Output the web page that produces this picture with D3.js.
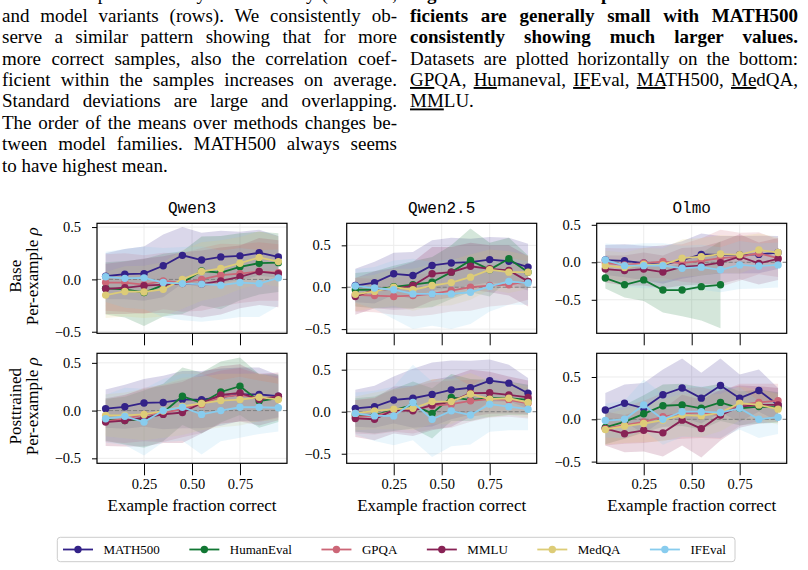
<!DOCTYPE html>
<html>
<head>
<meta charset="utf-8">
<script src="https://cdn.jsdelivr.net/npm/d3@7"></script>
<style>
  body { margin: 0; background: white; }
  svg { display: block; }
  text { font-family: "Liberation Serif", "Times New Roman", serif; fill: black; }
</style>
</head>
<body>
<div id="fig"></div>
<script>
// ---- data ----
var fractions = [0.05, 0.15, 0.25, 0.35, 0.45, 0.55, 0.65, 0.75, 0.85, 0.95];
var datasets = ["MATH500", "HumanEval", "GPQA", "MMLU", "MedQA", "IFEval"];
var colors = ["#332288", "#117733", "#CC6677", "#882255", "#DDCC77", "#88CCEE"];
var families = ["Qwen3", "Qwen2.5", "Olmo"];
var variants = ["Base", "Posttrained"];
var xTicks = [0.25, 0.5, 0.75];
var yTicks = [-0.5, 0, 0.5];

// means, rows in dataset order
var qwen3_base = [
  [0.03, 0.05, 0.055, 0.13, 0.23, 0.185, 0.215, 0.225, 0.255, 0.215],
  [-0.085, -0.095, -0.125, -0.055, -0.03, 0.08, 0.065, 0.12, 0.155, 0.16],
  [-0.03, -0.03, -0.05, -0.015, -0.03, 0.0, 0.04, 0.055, 0.075, 0.065],
  [-0.09, -0.08, -0.06, -0.05, -0.04, -0.045, -0.015, 0.025, 0.075, 0.055],
  [-0.15, -0.115, -0.12, -0.095, 0.0, 0.075, 0.105, 0.155, 0.21, 0.17],
  [0.025, 0.01, 0.015, -0.03, -0.04, -0.045, -0.055, -0.03, -0.04, 0.015]
];
var qwen3_base_sd = [
  [0.22, 0.24, 0.26, 0.3, 0.27, 0.26, 0.25, 0.23, 0.22, 0.2],
  [0.25, 0.27, 0.32, 0.3, 0.3, 0.33, 0.35, 0.32, 0.3, 0.28],
  [0.27, 0.28, 0.28, 0.27, 0.28, 0.3, 0.3, 0.28, 0.28, 0.27],
  [0.24, 0.25, 0.26, 0.27, 0.3, 0.32, 0.32, 0.3, 0.32, 0.32],
  [0.22, 0.24, 0.25, 0.26, 0.28, 0.28, 0.27, 0.25, 0.25, 0.24],
  [0.24, 0.28, 0.3, 0.33, 0.35, 0.36, 0.33, 0.33, 0.32, 0.27]
];
var qwen25_base = [
  [0.02, 0.055, 0.16, 0.14, 0.26, 0.29, 0.3, 0.33, 0.31, 0.24],
  [-0.03, -0.03, 0.005, 0.03, 0.06, 0.18, 0.32, 0.21, 0.34, 0.18],
  [-0.09, -0.1, -0.11, -0.1, -0.08, -0.04, 0.0, 0.02, 0.03, 0.07],
  [-0.11, -0.03, -0.02, 0.02, 0.16, 0.18, 0.25, 0.22, 0.2, 0.07],
  [-0.085, -0.05, 0.0, -0.03, 0.02, 0.055, 0.12, 0.21, 0.18, 0.18],
  [0.015, -0.01, -0.03, -0.08, -0.08, -0.08, -0.06, 0.01, 0.07, 0.05]
];
var qwen25_base_sd = [
  [0.2, 0.25, 0.25, 0.28, 0.3, 0.3, 0.28, 0.27, 0.28, 0.28],
  [0.2, 0.22, 0.25, 0.28, 0.3, 0.32, 0.38, 0.32, 0.25, 0.2],
  [0.2, 0.2, 0.22, 0.25, 0.25, 0.25, 0.28, 0.25, 0.24, 0.22],
  [0.22, 0.22, 0.25, 0.28, 0.32, 0.3, 0.28, 0.28, 0.3, 0.3],
  [0.2, 0.2, 0.22, 0.25, 0.25, 0.27, 0.27, 0.24, 0.25, 0.2],
  [0.2, 0.25, 0.35, 0.42, 0.38, 0.42, 0.38, 0.3, 0.28, 0.26]
];
var olmo_base = [
  [0.03, 0.02, -0.01, -0.035, 0.03, 0.105, 0.1, 0.1, 0.105, 0.13],
  [-0.21, -0.3, -0.235, -0.37, -0.37, -0.325, -0.3, null, null, null],
  [-0.01, -0.035, -0.01, 0.01, -0.01, 0.02, 0.055, 0.075, 0.12, 0.055],
  [-0.09, -0.11, -0.09, -0.13, -0.06, -0.045, -0.005, 0.075, -0.015, 0.045],
  [-0.045, -0.07, -0.03, -0.035, 0.055, 0.075, 0.11, 0.1, 0.165, 0.13],
  [0.03, -0.045, -0.045, -0.045, -0.08, -0.065, -0.1, -0.035, -0.05, -0.035]
];
var olmo_base_sd = [
  [0.2, 0.22, 0.23, 0.25, 0.25, 0.28, 0.25, 0.25, 0.25, 0.22],
  [0.14, 0.17, 0.28, 0.3, 0.35, 0.45, 0.58, null, null, null],
  [0.2, 0.22, 0.2, 0.22, 0.25, 0.3, 0.38, 0.32, 0.28, 0.25],
  [0.18, 0.2, 0.22, 0.22, 0.25, 0.25, 0.28, 0.3, 0.28, 0.28],
  [0.2, 0.2, 0.22, 0.22, 0.25, 0.25, 0.25, 0.25, 0.22, 0.2],
  [0.22, 0.28, 0.3, 0.3, 0.3, 0.3, 0.3, 0.32, 0.3, 0.3]
];
var qwen3_post = [
  [0.02, 0.04, 0.08, 0.085, 0.115, 0.115, 0.14, 0.17, 0.17, 0.15],
  [-0.095, -0.105, -0.09, -0.02, 0.15, 0.08, 0.195, 0.255, 0.1, 0.13],
  [-0.11, -0.09, -0.04, -0.03, 0.02, 0.065, 0.14, 0.165, 0.13, 0.14],
  [-0.12, -0.105, -0.075, -0.04, -0.02, 0.08, 0.165, 0.185, 0.115, 0.15],
  [-0.05, -0.05, -0.04, -0.005, 0.045, 0.075, 0.105, 0.115, 0.14, 0.115],
  [-0.085, -0.06, -0.12, 0.0, 0.035, -0.04, 0.0, 0.035, 0.035, 0.03]
];
var qwen3_post_sd = [
  [0.2, 0.23, 0.25, 0.28, 0.3, 0.3, 0.3, 0.28, 0.28, 0.22],
  [0.22, 0.25, 0.3, 0.3, 0.3, 0.32, 0.32, 0.3, 0.28, 0.25],
  [0.22, 0.25, 0.28, 0.3, 0.3, 0.3, 0.28, 0.28, 0.25, 0.22],
  [0.25, 0.27, 0.3, 0.3, 0.32, 0.32, 0.3, 0.3, 0.27, 0.25],
  [0.22, 0.24, 0.27, 0.28, 0.3, 0.28, 0.28, 0.27, 0.25, 0.22],
  [0.25, 0.3, 0.35, 0.33, 0.35, 0.42, 0.32, 0.32, 0.28, 0.25]
];
var qwen25_post = [
  [0.04, 0.06, 0.14, 0.16, 0.205, 0.26, 0.285, 0.37, 0.34, 0.22],
  [-0.04, -0.04, 0.02, 0.08, -0.02, 0.17, 0.14, 0.16, 0.16, 0.14],
  [-0.06, -0.05, 0.01, 0.02, 0.07, 0.09, 0.13, 0.15, 0.14, 0.1],
  [-0.08, -0.09, 0.02, 0.01, 0.08, 0.12, 0.22, 0.225, 0.2, 0.17],
  [-0.02, 0.01, 0.03, 0.04, 0.12, 0.12, 0.21, 0.15, 0.16, 0.11],
  [-0.02, -0.05, -0.05, 0.11, -0.09, 0.01, -0.04, 0.09, 0.06, 0.03]
];
var qwen25_post_sd = [
  [0.22, 0.25, 0.28, 0.35, 0.38, 0.35, 0.32, 0.25, 0.22, 0.18],
  [0.2, 0.22, 0.25, 0.28, 0.3, 0.28, 0.25, 0.22, 0.2, 0.18],
  [0.2, 0.22, 0.25, 0.28, 0.28, 0.28, 0.25, 0.22, 0.2, 0.18],
  [0.22, 0.25, 0.28, 0.3, 0.3, 0.3, 0.28, 0.25, 0.22, 0.2],
  [0.2, 0.22, 0.24, 0.26, 0.27, 0.27, 0.25, 0.22, 0.2, 0.18],
  [0.25, 0.3, 0.35, 0.45, 0.45, 0.42, 0.35, 0.33, 0.28, 0.25]
];
var olmo_post = [
  [0.11, 0.19, 0.13, 0.29, 0.37, 0.25, 0.4, 0.25, 0.34, 0.17],
  [-0.095, -0.03, 0.065, 0.16, 0.17, 0.13, 0.2, 0.13, 0.15, 0.14],
  [-0.11, -0.07, -0.03, 0.03, 0.07, 0.08, 0.05, 0.17, 0.2, 0.22],
  [-0.11, -0.17, -0.13, -0.16, -0.01, -0.11, 0.05, 0.15, 0.17, 0.17],
  [-0.12, -0.08, -0.05, -0.01, 0.05, 0.04, 0.08, 0.19, 0.17, 0.12],
  [-0.015, 0.0, 0.17, 0.0, 0.09, 0.09, 0.08, 0.13, 0.0, 0.025]
];
var olmo_post_sd = [
  [0.2, 0.22, 0.3, 0.3, 0.35, 0.3, 0.32, 0.28, 0.25, 0.2],
  [0.2, 0.2, 0.22, 0.25, 0.25, 0.25, 0.22, 0.2, 0.2, 0.18],
  [0.2, 0.22, 0.25, 0.28, 0.3, 0.3, 0.28, 0.25, 0.22, 0.2],
  [0.2, 0.22, 0.25, 0.28, 0.3, 0.34, 0.3, 0.25, 0.22, 0.2],
  [0.18, 0.2, 0.22, 0.25, 0.25, 0.25, 0.22, 0.2, 0.18, 0.18],
  [0.2, 0.22, 0.3, 0.3, 0.3, 0.3, 0.3, 0.25, 0.22, 0.2]
];

// axis limits per panel (row major)
var yLimits = [[-0.515, 0.536], [-0.55, 0.763], [-0.947, 0.52],
               [-0.552, 0.60], [-0.614, 0.695], [-0.52, 0.78]];

var panelMeans = [qwen3_base, qwen25_base, olmo_base, qwen3_post, qwen25_post, olmo_post];
var panelSds = [qwen3_base_sd, qwen25_base_sd, olmo_base_sd, qwen3_post_sd, qwen25_post_sd, olmo_post_sd];

// ---- caption text ----
var leftText = [
  "correlations per dataset by model family (columns,",
  "and model variants (rows). We consistently ob-",
  "serve a similar pattern showing that for more",
  "more correct samples, also the correlation coef-",
  "ficient within the samples increases on average.",
  "Standard deviations are large and overlapping.",
  "The order of the means over methods changes be-",
  "tween model families. MATH500 always seems",
  "to have highest mean."
];

var svg = d3.select("#fig").append("svg")
  .attr("width", 808)
  .attr("height", 570)
  .style("background", "white");

// one caption line, justified by stretching the word spaces
function textLine(x, y, w, segs, bold, justify) {
  var t = svg.append("text")
    .attr("x", x)
    .attr("y", y)
    .style("font-size", "19px")
    .style("font-weight", bold ? "bold" : "normal");
  segs.forEach(function (s) {
    t.append("tspan")
      .text(s[0])
      .style("text-decoration", s[1] ? "underline" : null);
  });
  if (justify) {
    var nat = t.node().getComputedTextLength();
    var nsp = (t.text().match(/ /g) || []).length;
    if (nsp > 0) t.style("word-spacing", ((w - nat) / nsp) + "px");
  }
}

var lineGap = 21.45;
leftText.forEach(function (s, i) {
  textLine(2, 0.2 + i * lineGap, 395, [[s, 0]], false, i < leftText.length - 1);
});

var rightText = [
  [[["Figure 6: Per-example correlation coef-", 0]], true],
  [[["ficients are generally small with MATH500", 0]], true],
  [[["consistently showing much larger values.", 0]], true],
  [[["Datasets are plotted horizontally on the bottom:", 0]], false],
  [[["GP", 1], ["QA, ", 0], ["Hu", 1], ["maneval, ", 0], ["IF", 1], ["Eval, ", 0],
    ["MA", 1], ["TH500, ", 0], ["Me", 1], ["dQA,", 0]], false],
  [[["MM", 1], ["LU.", 0]], false]
];
rightText.forEach(function (r, i) {
  textLine(410, 0.2 + i * lineGap, 388, r[0], r[1], i < rightText.length - 1);
});

// ---- panels ----
var colLeft = [97, 346.7, 596.7];
var rowTop = [223.3, 353.3];
var pw = 190, ph = 110;

function drawPanel(idx) {
  var row = Math.floor(idx / 3), col = idx % 3;
  var left = colLeft[col], top = rowTop[row];
  var means = panelMeans[idx], sds = panelSds[idx];

  var x = d3.scaleLinear().domain([0.005, 0.995]).range([left, left + pw]);
  var y = d3.scaleLinear().domain(yLimits[idx]).range([top + ph, top]);

  var g = svg.append("g");

  g.append("clipPath").attr("id", "clip" + idx)
    .append("rect").attr("x", left).attr("y", top).attr("width", pw).attr("height", ph);

  // grid
  g.append("g").selectAll("line").data(xTicks).enter().append("line")
    .attr("x1", d => x(d)).attr("x2", d => x(d))
    .attr("y1", top).attr("y2", top + ph)
    .attr("stroke", "#ececec").attr("stroke-width", 1);
  g.append("g").selectAll("line").data(yTicks).enter().append("line")
    .attr("x1", left).attr("x2", left + pw)
    .attr("y1", d => y(d)).attr("y2", d => y(d))
    .attr("stroke", "#ececec").attr("stroke-width", 1);

  var plot = g.append("g").attr("clip-path", "url(#clip" + idx + ")");

  // std bands
  datasets.forEach(function (name, k) {
    var pts = fractions.map(function (f, i) {
      return { f: f, m: means[k][i], s: sds[k][i] };
    });
    plot.append("path")
      .datum(pts)
      .attr("fill", colors[k])
      .attr("fill-opacity", 0.18)
      .attr("stroke", "none")
      .attr("d", d3.area()
        .defined(d => d.m !== null)
        .x(d => x(d.f))
        .y0(d => y(d.m - d.s))
        .y1(d => y(d.m + d.s)));
  });

  // zero line
  plot.append("line")
    .attr("x1", left).attr("x2", left + pw)
    .attr("y1", y(0)).attr("y2", y(0))
    .attr("stroke", "#808080").attr("stroke-width", 1)
    .attr("stroke-dasharray", "4,2");

  // mean lines + markers
  datasets.forEach(function (name, k) {
    var pts = fractions.map(function (f, i) { return { f: f, m: means[k][i] }; })
      .filter(d => d.m !== null);
    plot.append("path")
      .datum(pts)
      .attr("fill", "none")
      .attr("stroke", colors[k])
      .attr("stroke-width", 1.8)
      .attr("d", d3.line().x(d => x(d.f)).y(d => y(d.m)));
    plot.append("g").selectAll("circle").data(pts).enter().append("circle")
      .attr("cx", d => x(d.f))
      .attr("cy", d => y(d.m))
      .attr("r", 3.7)
      .attr("fill", colors[k]);
  });

  // axes
  var yAxis = g.append("g")
    .attr("transform", "translate(" + left + ",0)")
    .call(d3.axisLeft(y).tickValues(yTicks).tickSize(5).tickSizeOuter(0)
      .tickPadding(11).tickFormat(d3.format(".1f")));
  yAxis.select(".domain").remove();
  yAxis.selectAll("text").style("font-size", "14.5px")
    .style("font-family", "'Liberation Serif', serif");

  var xAxis = g.append("g")
    .attr("transform", "translate(0," + (top + ph) + ")")
    .call(d3.axisBottom(x).tickValues(xTicks).tickSize(12).tickSizeOuter(0)
      .tickPadding(3).tickFormat(row == 1 ? d3.format(".2f") : ""));
  xAxis.select(".domain").remove();
  xAxis.selectAll("text").style("font-size", "14.5px")
    .style("font-family", "'Liberation Serif', serif");

  // frame
  g.append("rect")
    .attr("x", left).attr("y", top).attr("width", pw).attr("height", ph)
    .attr("fill", "none").attr("stroke", "black").attr("stroke-width", 1.2);

  if (row == 0) {
    g.append("text")
      .attr("x", left + pw / 2).attr("y", 213)
      .attr("text-anchor", "middle")
      .style("font-family", "'Liberation Mono', 'DejaVu Sans Mono', monospace")
      .style("font-size", "16px")
      .text(families[col]);
  } else {
    g.append("text")
      .attr("x", left + pw / 2).attr("y", 510.5)
      .attr("text-anchor", "middle")
      .style("font-size", "17px")
      .text("Example fraction correct");
  }

  if (col == 0) {
    var cy = top + ph / 2 - 2;
    g.append("text")
      .attr("transform", "translate(21," + cy + ") rotate(-90)")
      .attr("text-anchor", "middle")
      .style("font-size", "17px")
      .text(variants[row]);
    var t2 = g.append("text")
      .attr("transform", "translate(38," + cy + ") rotate(-90)")
      .attr("text-anchor", "middle")
      .style("font-size", "17px");
    t2.append("tspan").text("Per-example ");
    t2.append("tspan").style("font-style", "italic").text("ρ");
  }
}

for (var p = 0; p < 6; p++) drawPanel(p);

// ---- legend ----
var legend = svg.append("g");
legend.append("rect")
  .attr("x", 57.3).attr("y", 537.3).attr("width", 677.7).attr("height", 24.4)
  .attr("rx", 3)
  .attr("fill", "white").attr("stroke", "#cccccc").attr("stroke-width", 1);

var lx = 63;
datasets.forEach(function (name, k) {
  legend.append("line")
    .attr("x1", lx).attr("x2", lx + 30)
    .attr("y1", 549.5).attr("y2", 549.5)
    .attr("stroke", colors[k]).attr("stroke-width", 1.8);
  legend.append("circle")
    .attr("cx", lx + 15).attr("cy", 549.5).attr("r", 3.7)
    .attr("fill", colors[k]);
  var t = legend.append("text")
    .attr("x", lx + 40.5).attr("y", 554)
    .style("font-size", "13px")
    .text(name);
  lx = lx + 40.5 + t.node().getComputedTextLength() + 29.5;
});
</script>
</body>
</html>
